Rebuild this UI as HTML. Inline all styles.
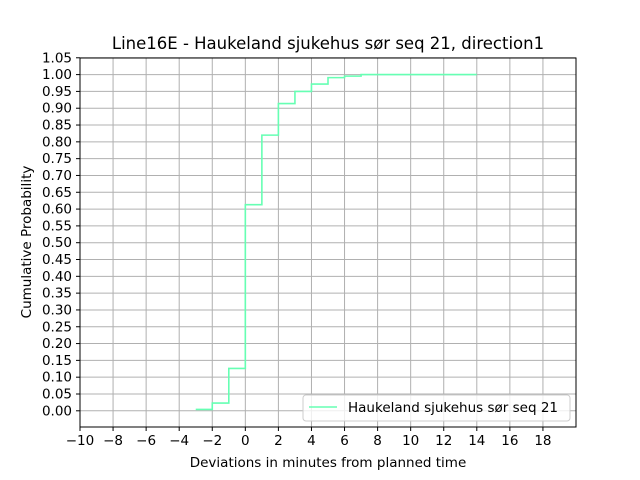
<!DOCTYPE html>
<html><head><meta charset="utf-8"><style>body{margin:0;background:#fff}svg{display:block;font-family:"DejaVu Sans","Liberation Sans",sans-serif}</style></head>
<body>
<svg id="c" width="640" height="480">
<rect width="640" height="480" fill="#fff"/>
<text x="328" y="49" font-size="16.5" text-anchor="middle">Line16E - Haukeland sjukehus sør seq 21, direction1</text>
<g id="grid"></g>
<g id="ticks" font-size="13.5"></g>
<path id="line" fill="none" stroke="#66ffb3" stroke-width="1.6"/>
<rect x="80" y="58" width="496" height="369" fill="none" stroke="#000" stroke-width="1"/>
<text x="328" y="467" font-size="13.5" text-anchor="middle">Deviations in minutes from planned time</text>
<text transform="translate(31,242) rotate(-90)" font-size="13.5" text-anchor="middle">Cumulative Probability</text>
<g>
<rect x="303" y="395" width="267" height="26" rx="3" fill="#fff" fill-opacity="0.8" stroke="#ccc"/>
<line x1="309" y1="407" x2="337" y2="407" stroke="#66ffb3" stroke-width="1.6"/>
<text x="348" y="412" font-size="13.5">Haukeland sjukehus sør seq 21</text>
</g>
</svg>
<script>
const xs = [-3,-2,-1,0,1,2,3,4,5,6,7,14];
const ps = [0.004,0.023,0.126,0.613,0.82,0.914,0.95,0.972,0.991,0.9955,1.0,1.0];
const xTicks = [-10,-8,-6,-4,-2,0,2,4,6,8,10,12,14,16,18];
const yTicks = [0,0.05,0.1,0.15,0.2,0.25,0.3,0.35,0.4,0.45,0.5,0.55,0.6,0.65,0.7,0.75,0.8,0.85,0.9,0.95,1.0,1.05];
const X = v => 80 + (v + 10) * 496 / 30;
const Y = v => 410.8 - v * 336.2;
const ns = 'http://www.w3.org/2000/svg';
const grid = document.getElementById('grid'), tk = document.getElementById('ticks');
function mk(tag, attrs, parent){const e=document.createElementNS(ns,tag);for(const k in attrs)e.setAttribute(k,attrs[k]);parent.appendChild(e);return e;}
xTicks.forEach(v=>{
  const x=X(v);
  const g=mk('line',{x1:x,x2:x,y1:58,y2:427,stroke:'#b0b0b0','stroke-width':1},grid);
  
  
  mk('line',{x1:x,x2:x,y1:427,y2:431,stroke:'#000'},tk);
  const t=mk('text',{x:x,y:445,'text-anchor':'middle'},tk);
  t.textContent=String(v).replace('-','\u2212');
  
  
});
yTicks.forEach(v=>{
  const y=Y(v);
  const g=mk('line',{x1:80,x2:576,y1:y,y2:y,stroke:'#b0b0b0','stroke-width':1},grid);
  
  
  mk('line',{x1:76,x2:80,y1:y,y2:y,stroke:'#000'},tk);
  const t=mk('text',{x:72,y:y+4.5,'text-anchor':'end'},tk);
  t.textContent=v.toFixed(2);
  
  
});
let d='M'+X(xs[0])+' '+Y(ps[0]);
for(let i=1;i<xs.length;i++){d+=' H'+X(xs[i])+' V'+Y(ps[i]);}
document.getElementById('line').setAttribute('d',d);
</script>
</body></html>
